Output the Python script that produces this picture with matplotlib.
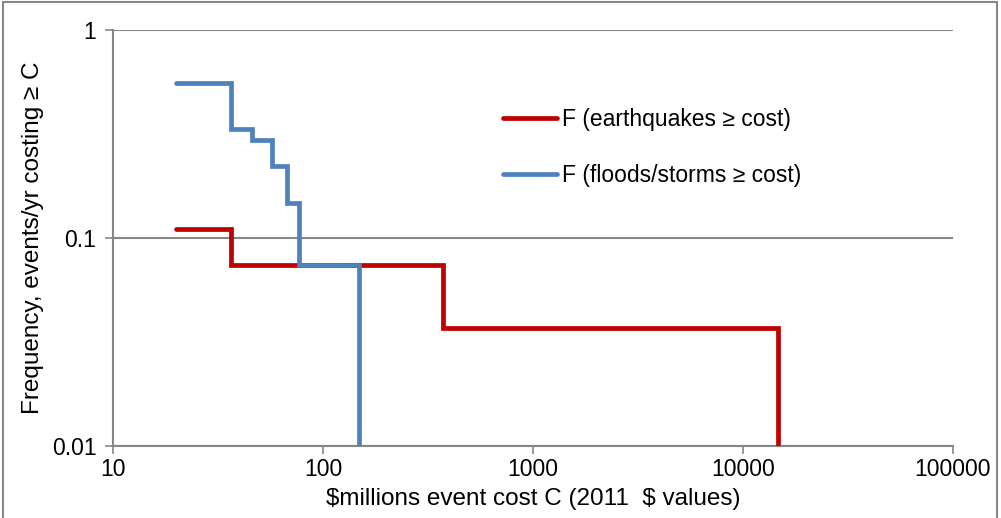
import matplotlib
matplotlib.use("Agg")
import matplotlib.pyplot as plt
from matplotlib.patches import Rectangle

plt.rcParams['font.family'] = ['Liberation Sans', 'DejaVu Sans']

# Data (steps, post)
eq_cost = [20, 36.5, 371, 14750]
eq_freq = [0.111, 0.074, 0.037, 0.01]
fl_cost = [20, 36.5, 46, 57, 67.4, 76.5, 148]
fl_freq = [0.556, 0.333, 0.296, 0.222, 0.148, 0.074, 0.01]
x_ticks = [10, 100, 1000, 10000, 100000]
x_tick_labels = ['10', '100', '1000', '10000', '100000']
y_ticks = [0.01, 0.1, 1]
y_tick_labels = ['0.01', '0.1', '1']
labels = ['F (earthquakes \u2265 cost)', 'F (floods/storms \u2265 cost)']

RED = '#C00000'
BLUE = '#4F81BD'
GRAY = '#868686'
FS = 16.5
LFS = 17.5

fig = plt.figure(figsize=(10.01, 5.18), dpi=100)
ax = fig.add_axes([113/1001, 1-446/518, (953-113)/1001, (446-30)/518])

ax.plot(eq_cost, eq_freq, drawstyle='steps-post', color=RED, lw=3.4,
        solid_capstyle='round', solid_joinstyle='miter', label=labels[0], zorder=3)
ax.plot(fl_cost, fl_freq, drawstyle='steps-post', color=BLUE, lw=3.4,
        solid_capstyle='round', solid_joinstyle='miter', label=labels[1], zorder=4)

ax.set_xscale('log')
ax.set_yscale('log')
ax.set_xlim(10, 100000)
ax.set_ylim(0.01, 1)
ax.set_xticks(x_ticks)
ax.set_xticklabels(x_tick_labels, fontsize=FS)
ax.set_yticks(y_ticks)
ax.set_yticklabels(y_tick_labels, fontsize=FS)
ax.minorticks_off()
ax.tick_params(axis='both', which='major', direction='out', length=6, width=1.2,
               color=GRAY)
ax.tick_params(axis='x', pad=3)
ax.tick_params(axis='y', pad=6)

ax.yaxis.grid(True, color=GRAY, lw=1.5)
ax.set_axisbelow(True)
for s in ['top', 'right']:
    ax.spines[s].set_visible(False)
for s in ['left', 'bottom']:
    ax.spines[s].set_color(GRAY)
    ax.spines[s].set_linewidth(1.5)

ax.set_xlabel(r'\$millions event cost C (2011  \$ values)', fontsize=LFS)
ax.set_ylabel('Frequency, events/yr costing \u2265 C', fontsize=LFS)
ax.xaxis.set_label_coords(0.5, (446-488)/416)
ax.yaxis.set_label_coords((44-113)/840, 0.5)

leg = ax.legend(loc='upper left', bbox_to_anchor=(503/1001, 1-108/518),
                bbox_transform=fig.transFigure, frameon=False, fontsize=FS,
                handlelength=2.36, handletextpad=0.22, labelspacing=1.43,
                borderaxespad=0, borderpad=0)

fig.patches.append(Rectangle((3/1001, -0.02), 994/1001, 1.0 - 1.5/518 + 0.02,
                             transform=fig.transFigure, fill=False,
                             edgecolor=GRAY, lw=1.5))

fig.savefig('out.png', dpi=100)
